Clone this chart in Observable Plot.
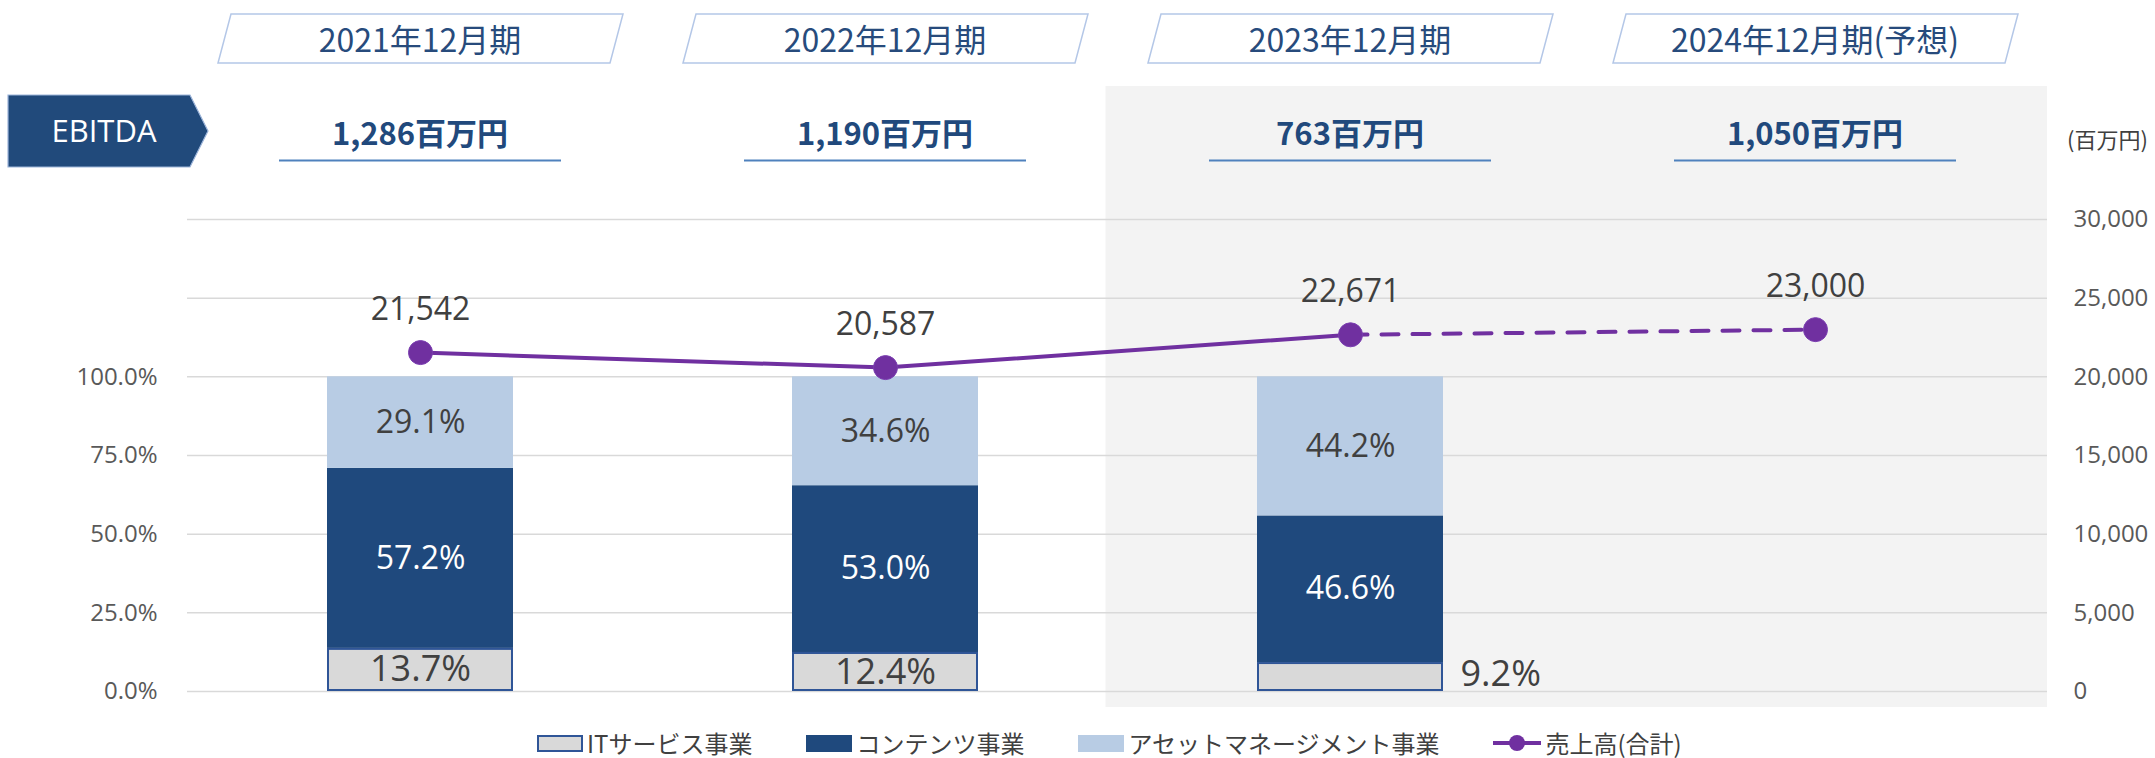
<!DOCTYPE html>
<html><head><meta charset="utf-8">
<script src="https://cdn.jsdelivr.net/npm/d3@7"></script>
<script src="https://cdn.jsdelivr.net/npm/@observablehq/plot@0.6"></script>
<style>
body{margin:0;background:#fff;width:2155px;height:758px;overflow:hidden;position:relative;font-family:'Open Sans','Noto Sans CJK JP',sans-serif;}
#chart{position:absolute;left:0;top:0;}
#legend{position:absolute;left:537px;top:729px;height:28px;display:flex;align-items:center;font-family:'Noto Sans CJK JP',sans-serif;font-size:24px;color:#404040;line-height:26px;}
.item{display:flex;align-items:center;margin-right:54px;}
.item span{display:block;line-height:26px;}
.sw{width:46px;height:17px;margin-right:4px;box-sizing:border-box;}
</style></head><body>
<div id="chart"></div><div id="legend"></div>
<script>
// ---- data ----
const periods = ["2021年12月期", "2022年12月期", "2023年12月期", "2024年12月期(予想)"];
const seriesNames = ["ITサービス事業", "コンテンツ事業", "アセットマネージメント事業"];
const seriesColors = ["#d9d9d9", "#1f497d", "#b8cce4"];
const itShare = [13.7, 12.4, 9.2, null];
const contentShare = [57.2, 53.0, 46.6, null];
const assetShare = [29.1, 34.6, 44.2, null];
const revenue = [21542, 20587, 22671, 23000];
const ebitda = [1286, 1190, 763, 1050];
const revenueName = "売上高(合計)";
const leftTicks = [0, 25, 50, 75, 100];
const rightTicks = [0, 5000, 10000, 15000, 20000, 25000, 30000];
const forecastStart = 2; // dashed segment begins at this period
const unitLabel = "(百万円)";
const ebitdaTag = "EBITDA";

// 100% on the left axis lines up with 20,000 on the right axis
const PCT = 200;

const shareCols = [itShare, contentShare, assetShare];
const shares = [];
periods.forEach((p, i) => {
  shareCols.forEach((col, s) => {
    if (col[i] != null) shares.push({period: p, series: seriesNames[s], share: col[i]});
  });
});
const rev = periods.map((p, i) => ({period: p, rev: revenue[i]}));
const fmtPct = v => v.toFixed(1) + "%";

const purple = "#7030a0";
const textDark = "#404040";

const W = 2155, H = 716;
const plot = Plot.plot({
  width: W, height: H,
  marginLeft: 187, marginRight: 108, marginTop: 219, marginBottom: 25,
  style: {background: "transparent", fontFamily: "'Open Sans','Noto Sans CJK JP',sans-serif", overflow: "visible"},
  x: {type: "band", domain: periods, paddingInner: 0.6, paddingOuter: 0.3, axis: null},
  y: {domain: [0, 30000], axis: null},
  color: {domain: seriesNames, range: seriesColors},
  marks: [
    Plot.gridY(rightTicks, {stroke: "#d9d9d9", strokeOpacity: 1, strokeWidth: 1.5}),
    Plot.barY(shares, {x: "period", y: d => d.share * PCT, fill: "series"}),
    Plot.barY(shares.filter(d => d.series === seriesNames[0]),
      {x: "period", y: d => d.share * PCT, fill: seriesColors[0], stroke: "#2f5597", strokeWidth: 2, inset: 1}),
    // labels (all stacked on the full data so positions are consistent)
    Plot.text(shares, Plot.stackY({x: "period", y: d => d.share * PCT, z: "series",
      text: d => d.series === seriesNames[2] ? fmtPct(d.share) : null, fill: textDark, fontSize: 32})),
    Plot.text(shares, Plot.stackY({x: "period", y: d => d.share * PCT, z: "series",
      text: d => d.series === seriesNames[1] ? fmtPct(d.share) : null, fill: "#ffffff", fontSize: 32})),
    Plot.text(shares, Plot.stackY({x: "period", y: d => d.share * PCT, z: "series",
      text: d => d.series === seriesNames[0] && d.share >= 10 ? fmtPct(d.share) : null, fill: textDark, fontSize: 36})),
    Plot.text(shares, Plot.stackY({x: "period", y: d => d.share * PCT, z: "series",
      text: d => d.series === seriesNames[0] && d.share < 10 ? fmtPct(d.share) : null, fill: textDark, fontSize: 36,
      textAnchor: "start", dx: 110, dy: -3})),
    Plot.line(rev.slice(0, forecastStart + 1), {x: "period", y: "rev", stroke: purple, strokeWidth: 4}),
    Plot.line(rev.slice(forecastStart), {x: "period", y: "rev", stroke: purple, strokeWidth: 4, strokeDasharray: "17,14"}),
    Plot.dot(rev, {x: "period", y: "rev", r: 12, fill: purple, stroke: "#7a3db0", strokeWidth: 1}),
    Plot.text(rev, {x: "period", y: "rev", text: d => d3.format(",")(d.rev), dy: -43, fontSize: 32, fill: textDark}),
    Plot.axisY(leftTicks.map(t => t * PCT), {anchor: "left", tickFormat: d => fmtPct(d / PCT), tickSize: 0, tickPadding: 30, fontSize: 24, color: "#595959", label: null}),
    Plot.axisY(rightTicks, {anchor: "right", tickFormat: d3.format(","), tickSize: 0, tickPadding: 26, fontSize: 24, color: "#595959", label: null})
  ]
});
document.getElementById("chart").appendChild(plot);

// ---- decorations positioned from the plot's own scales ----
const svg = d3.select(plot);
const xs = plot.scale("x");
const ys = plot.scale("y");
const step = xs.step;
const bw = xs.bandwidth;
const cx = p => xs.apply(p) + bw / 2;
const xRight = W - 108;

// shaded region for the latest actual + forecast periods
const bgX = xs.apply(periods[forecastStart]) - (step - bw) / 2 - 12;
svg.insert("rect", ":first-child")
  .attr("x", bgX).attr("width", xRight - bgX)
  .attr("y", ys.apply(30000) - 133).attr("height", ys.apply(0) + 16 - (ys.apply(30000) - 133))
  .attr("fill", "#f3f3f3");

const hdr = svg.append("g");
periods.forEach((p, i) => {
  const c = cx(p);
  hdr.append("path")
    .attr("d", `M${c - 202},63 L${c + 190},63 L${c + 203},14 L${c - 189},14 Z`)
    .attr("fill", "#ffffff").attr("stroke", "#b4c7e7").attr("stroke-width", 1.5);
  hdr.append("text").attr("x", c).attr("y", 40).attr("dy", "0.36em")
    .attr("text-anchor", "middle").attr("font-family", "'Noto Sans CJK JP',sans-serif")
    .attr("font-size", 32).attr("fill", "#274b7c").text(p);
  hdr.append("text").attr("x", c).attr("y", 134).attr("dy", "0.36em")
    .attr("text-anchor", "middle").attr("font-family", "'Noto Sans CJK JP',sans-serif")
    .attr("font-weight", "bold").attr("font-size", 31).attr("fill", "#21497c")
    .text(d3.format(",")(ebitda[i]) + "百万円");
  hdr.append("line").attr("x1", c - 141).attr("x2", c + 141).attr("y1", 160.5).attr("y2", 160.5)
    .attr("stroke", "#4f81bd").attr("stroke-width", 2);
});
// EBITDA tag
hdr.append("path").attr("d", "M8,95 L190,95 L208,131 L190,167 L8,167 Z")
  .attr("fill", "#214a7b").attr("stroke", "#9db5da").attr("stroke-width", 1.2);
hdr.append("text").attr("x", 104).attr("y", 131).attr("dy", "0.36em").attr("text-anchor", "middle")
  .attr("font-size", 31).attr("fill", "#ffffff").text(ebitdaTag);
// unit
hdr.append("text").attr("x", 2067).attr("y", 140).attr("dy", "0.36em").attr("text-anchor", "start")
  .attr("font-family", "'Noto Sans CJK JP',sans-serif").attr("font-size", 22).attr("fill", textDark).text(unitLabel);

// ---- legend ----
const lg = document.getElementById("legend");
seriesNames.forEach((n, i) => {
  const it = document.createElement("div"); it.className = "item";
  const sw = document.createElement("div"); sw.className = "sw"; sw.style.background = seriesColors[i];
  if (i === 0) sw.style.border = "2px solid #2f5597";
  const t = document.createElement("span"); t.textContent = n;
  it.appendChild(sw); it.appendChild(t); lg.appendChild(it);
});
{
  const it = document.createElement("div"); it.className = "item";
  it.innerHTML = `<svg width="48" height="20" style="margin-right:4px"><line x1="0" x2="48" y1="10" y2="10" stroke="${purple}" stroke-width="4"/><circle cx="24" cy="10" r="8" fill="${purple}"/></svg>`;
  const t = document.createElement("span"); t.textContent = revenueName;
  it.appendChild(t); lg.appendChild(it);
}
</script>
</body></html>
